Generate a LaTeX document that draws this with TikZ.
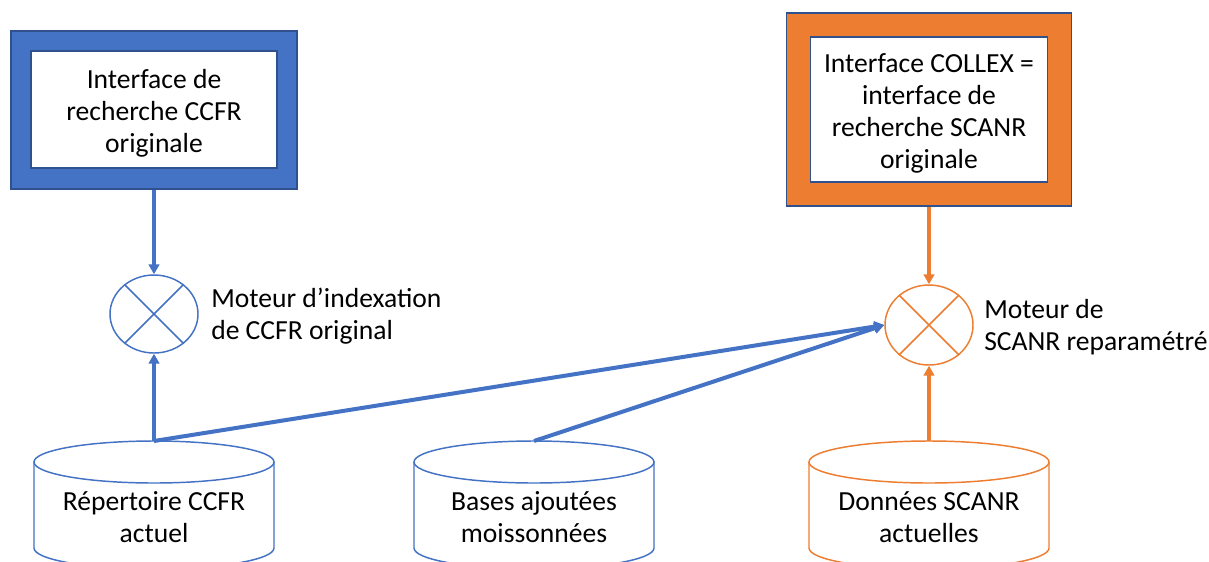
\documentclass[tikz,border=0pt]{standalone}
\usepackage{fontspec}
\setmainfont{Carlito}
\usetikzlibrary{arrows.meta,shapes.geometric}
\definecolor{cblue}{HTML}{4472C4}
\definecolor{corange}{HTML}{ED7D31}
\definecolor{cdark}{HTML}{2F528F}
\begin{document}
\begin{tikzpicture}[x=0.75pt,y=-0.75pt,
  txt/.style={font=\fontsize{20.7}{24}\selectfont, align=center, text=black, inner sep=0pt},
  outerbox/.style={draw=cdark, line width=0.8pt, inner sep=0pt},
  innerbox/.style={draw=cdark, fill=white, line width=0.8pt, inner sep=0pt},
  engine/.style={ellipse, line width=1.1pt, inner sep=0pt},
  cyl/.style={line width=1.1pt},
  barrow/.style={draw=cblue, line width=3pt, -{Triangle[length=7.5pt,width=8pt]}},
  oarrow/.style={draw=corange, line width=3pt, -{Triangle[length=7.5pt,width=8pt]}}]
\useasboundingbox (0,0) rectangle (1209,561);
\clip (0,0) rectangle (1209,561);
\fill[white] (0,0) rectangle (1209,561);

% boxes
\node[outerbox, fill=cblue, minimum width=214.5pt, minimum height=118.5pt] (ccfrbox) at (154,110) {};
\node[innerbox, minimum width=184.5pt, minimum height=87.75pt] (ccfrin) at (154,109.5) {};
\node[txt] (ccfrtxt) at (154,113.5) {Interface de\\recherche CCFR\\originale};
\node[outerbox, fill=corange, minimum width=213.75pt, minimum height=144.75pt] (scanrbox) at (929,109.5) {};
\node[innerbox, minimum width=177.75pt, minimum height=108.75pt] (scanrin) at (929,109.5) {};
\node[txt] (scanrtxt) at (929,113.5) {Interface COLLEX =\\interface de\\recherche SCANR\\originale};

% engines
\node[engine, draw=cblue, minimum width=66pt, minimum height=58.5pt] (m1) at (154,314) {};
\draw[cblue, line width=1.1pt] (m1.45) -- (m1.225) (m1.135) -- (m1.315);
\node[txt, anchor=west, align=left] (m1l) at (211,316) {Moteur d’indexation\\de CCFR original};
\node[engine, draw=corange, minimum width=66pt, minimum height=60pt] (m2) at (929,325) {};
\draw[corange, line width=1.1pt] (m2.45) -- (m2.225) (m2.135) -- (m2.315);
\node[txt, anchor=west, align=left] (m2l) at (984,327) {Moteur de\\SCANR reparamétré};

% cylinders
\draw[cyl, cblue] (154,462) ellipse [x radius=120, y radius=21];
\draw[cyl, cblue] (34,462) -- (34,548) arc[start angle=180, end angle=0, x radius=120, y radius=21] -- (274,462);
\node[txt] (rep) at (154,517.5) {Répertoire CCFR\\actuel};
\coordinate (reptop) at (154,441);

\draw[cyl, cblue] (534,462) ellipse [x radius=120, y radius=21];
\draw[cyl, cblue] (414,462) -- (414,548) arc[start angle=180, end angle=0, x radius=120, y radius=21] -- (654,462);
\node[txt] (bases) at (534,517.5) {Bases ajoutées\\moissonnées};
\coordinate (basestop) at (534,441);

\draw[cyl, corange] (929,462) ellipse [x radius=120, y radius=21];
\draw[cyl, corange] (809,462) -- (809,548) arc[start angle=180, end angle=0, x radius=120, y radius=21] -- (1049,462);
\node[txt] (don) at (929,517.5) {Données SCANR\\actuelles};
\coordinate (dontop) at (929,441);

% connectors
\draw[barrow] (ccfrbox.south) -- (m1.north);
\draw[barrow] (reptop) -- (m1.south);
\draw[barrow] (reptop) -- (m2.west);
\draw[barrow] (basestop) -- (m2.west);
\draw[oarrow] (scanrbox.south) -- (m2.north);
\draw[oarrow] (dontop) -- (m2.south);
\end{tikzpicture}
\end{document}
